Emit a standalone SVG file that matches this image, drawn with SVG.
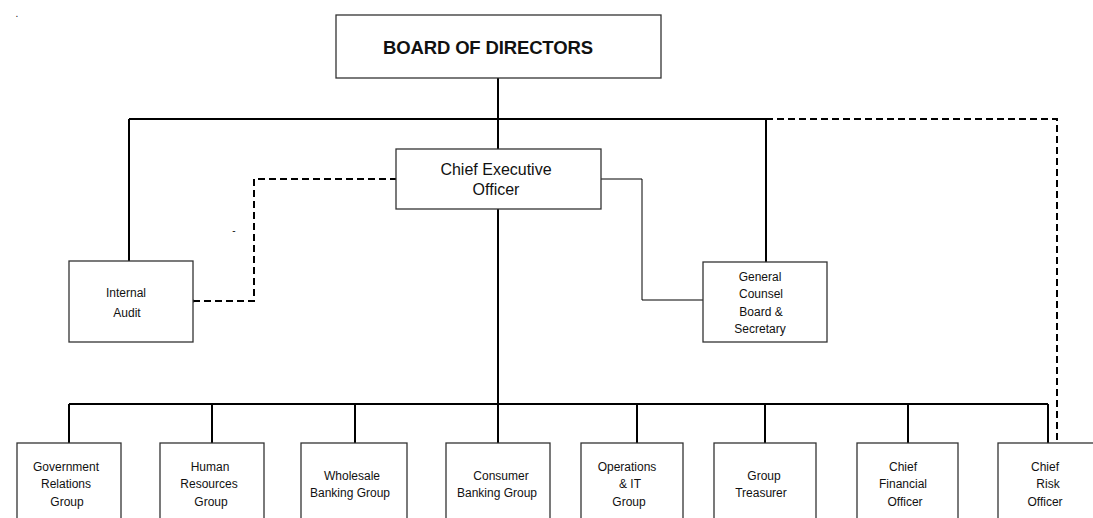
<svg xmlns="http://www.w3.org/2000/svg" width="1093" height="518" viewBox="0 0 1093 518">
<style>
.box{fill:#fff;stroke:#333;stroke-width:1.3}
.t{font-family:"Liberation Sans",Arial,sans-serif;font-size:12px;fill:#111;text-anchor:middle}
.solid{fill:none;stroke:#000;stroke-width:2}
.thin{fill:none;stroke:#000;stroke-width:1}
.dash{fill:none;stroke:#000;stroke-width:2;stroke-dasharray:7,4}
</style>
<defs>
<marker id="dot" markerWidth="4" markerHeight="4" refX="2" refY="2" markerUnits="userSpaceOnUse"><circle cx="2" cy="2" r="1.6" fill="#000"/></marker>
</defs>
<rect width="1093" height="518" fill="#fff"/>
<text class="t" x="17" y="17" style="font-size:10px">.</text>
<text class="t" x="234" y="234" style="font-size:10px">-</text>
<g id="connectors">
<path class="solid" d="M498 78V149M129 119H766M129 119V261M766 119V262"/>
<path class="dash" d="M766 119H1057V443"/>
<path class="solid" d="M498 209V404M69 404H1048M69 404V443M212 404V443M355 404V443M498 404V443M637 404V443M765 404V443M908 404V443M1048 404V443"/>
<path class="thin" d="M601 179H642V300H703"/>
<path class="dash" d="M193 301H254V179H397" marker-start="url(#dot)" marker-end="url(#dot)"/>
</g>
<g id="board"><rect class="box" x="336" y="15" width="325" height="63"/><text class="t" x="488" y="54" style="font-size:18.5px;font-weight:bold" textLength="210">BOARD OF DIRECTORS</text></g>
<g id="ceo"><rect class="box" x="396" y="149" width="205" height="60"/><text class="t" x="496" y="175" style="font-size:16px">Chief Executive</text><text class="t" x="496" y="195" style="font-size:16px">Officer</text></g>
<g id="audit"><rect class="box" x="69" y="261" width="124" height="81"/><text class="t" x="126" y="297">Internal</text><text class="t" x="127" y="317">Audit</text></g>
<g id="counsel"><rect class="box" x="703" y="262" width="124" height="80"/><text class="t" x="760" y="281">General</text><text class="t" x="761" y="298">Counsel</text><text class="t" x="761" y="316">Board &amp;</text><text class="t" x="760" y="333">Secretary</text></g>
<g id="gov"><rect class="box" x="17" y="443" width="104" height="90"/><text class="t" x="66" y="471">Government</text><text class="t" x="66" y="488">Relations</text><text class="t" x="67" y="506">Group</text></g>
<g id="hr"><rect class="box" x="160" y="443" width="104" height="90"/><text class="t" x="210" y="471">Human</text><text class="t" x="209" y="488">Resources</text><text class="t" x="211" y="506">Group</text></g>
<g id="wholesale"><rect class="box" x="301" y="443" width="106" height="90"/><text class="t" x="352" y="480">Wholesale</text><text class="t" x="350" y="497">Banking  Group</text></g>
<g id="consumer"><rect class="box" x="446" y="443" width="104" height="90"/><text class="t" x="501" y="480">Consumer</text><text class="t" x="497" y="497">Banking Group</text></g>
<g id="ops"><rect class="box" x="581" y="443" width="102" height="90"/><text class="t" x="627" y="471">Operations</text><text class="t" x="630" y="488">&amp; IT</text><text class="t" x="629" y="506">Group</text></g>
<g id="treasurer"><rect class="box" x="714" y="443" width="102" height="90"/><text class="t" x="764" y="480">Group</text><text class="t" x="761" y="497">Treasurer</text></g>
<g id="cfo"><rect class="box" x="857" y="443" width="101" height="90"/><text class="t" x="903" y="471">Chief</text><text class="t" x="903" y="488">Financial</text><text class="t" x="905" y="506">Officer</text></g>
<g id="cro"><rect class="box" x="998" y="443" width="110" height="90"/><text class="t" x="1045" y="471">Chief</text><text class="t" x="1048" y="488">Risk</text><text class="t" x="1045" y="506">Officer</text></g>
</svg>
